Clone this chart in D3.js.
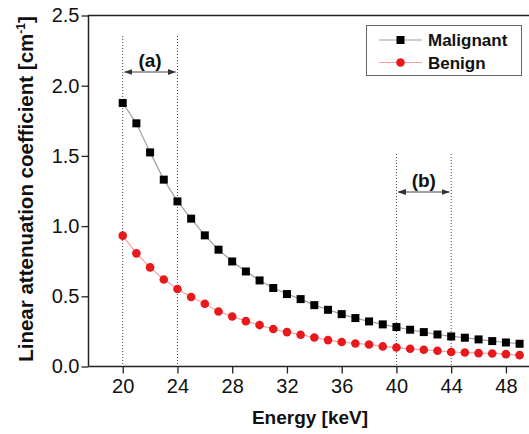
<!DOCTYPE html>
<html>
<head>
<meta charset="utf-8">
<script src="https://cdn.jsdelivr.net/npm/d3@7"></script>
<style>
body { margin: 0; background: #fff; }
svg { display: block; font-family: "Liberation Sans", Arial, sans-serif; }
</style>
</head>
<body>
<svg id="chart" width="529" height="434"></svg>
<script>
// energy in keV
var energy = [20, 21, 22, 23, 24, 25, 26, 27, 28, 29, 30, 31, 32, 33, 34,
    35, 36, 37, 38, 39, 40, 41, 42, 43, 44, 45, 46, 47, 48, 49];
var malignant = [1.877, 1.732, 1.525, 1.331, 1.176, 1.053, 0.934, 0.832, 0.748, 0.677,
    0.613, 0.559, 0.516, 0.480, 0.437, 0.404, 0.373, 0.345, 0.321, 0.300,
    0.281, 0.262, 0.245, 0.228, 0.214, 0.205, 0.193, 0.181, 0.171, 0.162];
var benign = [0.932, 0.806, 0.706, 0.620, 0.552, 0.495, 0.447, 0.392, 0.356, 0.323,
    0.295, 0.267, 0.245, 0.226, 0.207, 0.188, 0.174, 0.164, 0.157, 0.143,
    0.135, 0.126, 0.119, 0.112, 0.103, 0.100, 0.095, 0.093, 0.088, 0.081];
var xTicks = [20, 24, 28, 32, 36, 40, 44, 48];
var xMinor = [18, 22, 26, 30, 34, 38, 42, 46, 50];
var yTicks = [0, 0.5, 1.0, 1.5, 2.0, 2.5];
var yMinor = [0.25, 0.75, 1.25, 1.75, 2.25];
var ranges = [
    {label: '(a)', from: 20, to: 24},
    {label: '(b)', from: 40, to: 44}
];

var svg = d3.select('#chart');
var left = 88.5, plotTop = 15.5, bottom = 366.5;

var x = d3.scaleLinear().domain([17.5, 50.5]).range([left, left + 33 * 13.686]);
var y = d3.scaleLinear().domain([0, 2.5]).range([bottom, plotTop]);

var defs = svg.append('defs');
defs.append('marker')
    .attr('id', 'arr').attr('viewBox', '0 0 10 10')
    .attr('refX', 9).attr('refY', 5)
    .attr('markerWidth', 7).attr('markerHeight', 7)
    .attr('orient', 'auto-start-reverse')
    .append('path').attr('d', 'M0,1.5 L10,5 L0,8.5 Z').attr('fill', '#333');

// range annotations
ranges.forEach(function (r, i) {
    var topY = i == 0 ? 36 : 154;
    var arrY = i == 0 ? 72 : 192;
    [r.from, r.to].forEach(function (v) {
        svg.append('line')
            .attr('x1', x(v)).attr('x2', x(v))
            .attr('y1', topY).attr('y2', bottom)
            .attr('stroke', '#444').attr('stroke-width', 1)
            .attr('stroke-dasharray', '1,2');
    });
    svg.append('line')
        .attr('x1', x(r.from) + 2).attr('x2', x(r.to) - 2)
        .attr('y1', arrY).attr('y2', arrY)
        .attr('stroke', '#444').attr('stroke-width', 1.2)
        .attr('marker-start', 'url(#arr)')
        .attr('marker-end', 'url(#arr)');
    svg.append('text')
        .attr('x', (x(r.from) + x(r.to)) / 2)
        .attr('y', arrY - 5)
        .attr('text-anchor', 'middle')
        .attr('font-size', 19).attr('font-weight', 'bold')
        .attr('fill', '#111')
        .text(r.label);
});

// series
var series = [
    {name: 'Malignant', values: malignant, line: '#a0a0a0', color: '#000', shape: 'square'},
    {name: 'Benign', values: benign, line: '#f3a0a0', color: '#e8191c', shape: 'circle'}
];

function drawMarker(g, s, cx, cy) {
    if (s.shape == 'square') {
        g.append('rect')
            .attr('x', cx - 4).attr('y', cy - 4)
            .attr('width', 8).attr('height', 8)
            .attr('fill', s.color);
    } else {
        g.append('circle')
            .attr('cx', cx).attr('cy', cy).attr('r', 4.3)
            .attr('fill', s.color);
    }
}

series.forEach(function (s) {
    var line = d3.line()
        .x(function (d, i) { return x(energy[i]); })
        .y(function (d) { return y(d); });
    svg.append('path')
        .attr('d', line(s.values))
        .attr('fill', 'none')
        .attr('stroke', s.line).attr('stroke-width', 1.2);
    var g = svg.append('g');
    s.values.forEach(function (v, i) {
        drawMarker(g, s, x(energy[i]), y(v));
    });
});

// axes
var xAxis = svg.append('g').attr('transform', 'translate(0,' + bottom + ')');
xAxis.call(d3.axisBottom(x).tickValues(xMinor).tickSize(5).tickFormat(''));
xAxis.call(d3.axisBottom(x).tickValues(xTicks).tickSize(7).tickPadding(5).tickFormat(d3.format('d')));

var yAxis = svg.append('g').attr('transform', 'translate(' + left + ',0)');
yAxis.call(d3.axisLeft(y).tickValues(yMinor).tickSize(4).tickFormat(''));
yAxis.call(d3.axisLeft(y).tickValues(yTicks).tickSize(7).tickPadding(2).tickFormat(d3.format('.1f')));

svg.selectAll('.domain').remove();
svg.selectAll('.tick line').attr('stroke', '#222').attr('stroke-width', 1.3);
svg.selectAll('.tick text')
    .attr('font-family', '"Liberation Sans", Arial, sans-serif')
    .attr('font-size', 20).attr('fill', '#111');

svg.append('path')
    .attr('d', 'M' + left + ',' + bottom + ' H529 M' + left + ',' + bottom + ' V' + plotTop + ' H529')
    .attr('fill', 'none').attr('stroke', '#222').attr('stroke-width', 1.5);

// axis titles
svg.append('text')
    .attr('x', 310).attr('y', 424)
    .attr('text-anchor', 'middle')
    .attr('font-size', 19).attr('font-weight', 'bold').attr('fill', '#111')
    .text('Energy [keV]');

var yt = svg.append('text')
    .attr('transform', 'translate(33,189) rotate(-90)')
    .attr('text-anchor', 'middle')
    .attr('font-size', 20.5).attr('font-weight', 'bold').attr('fill', '#111');
yt.append('tspan').text('Linear attenuation coefficient [cm');
yt.append('tspan').attr('font-size', 12).attr('dy', -8).text('-1');
yt.append('tspan').attr('dy', 8).text(']');

// legend
var lg = svg.append('g');
lg.append('rect')
    .attr('x', 366.5).attr('y', 25.5).attr('width', 155).attr('height', 50)
    .attr('fill', '#fff').attr('stroke', '#666').attr('stroke-width', 1);
series.forEach(function (s, i) {
    var ly = 40 + i * 22.5;
    lg.append('line')
        .attr('x1', 379).attr('x2', 422).attr('y1', ly).attr('y2', ly)
        .attr('stroke', s.line).attr('stroke-width', 1.2);
    drawMarker(lg, s, 400.5, ly);
    lg.append('text')
        .attr('x', 428).attr('y', ly + 6)
        .attr('font-size', 17).attr('font-weight', 'bold').attr('fill', '#111')
        .text(s.name);
});
</script>
</body>
</html>
